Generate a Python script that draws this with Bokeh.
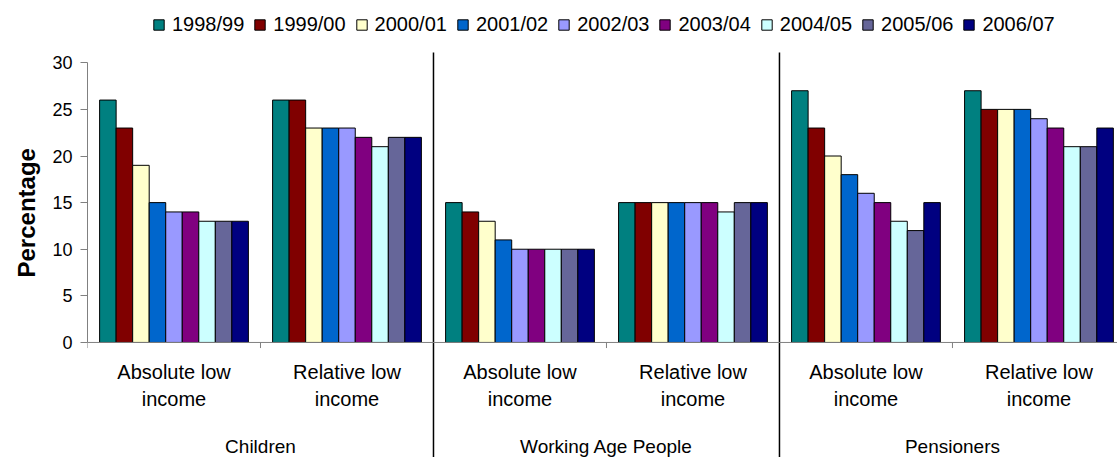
from bokeh.plotting import figure
from bokeh.models import (ColumnDataSource, Range1d, FixedTicker, Span, Legend,
                          LegendItem, Title)
from bokeh.transform import dodge
from bokeh.core.properties import value
from bokeh.embed import file_html
from bokeh.resources import INLINE

# Low income rates (%) by year
years = ["1998/99", "1999/00", "2000/01", "2001/02", "2002/03",
         "2003/04", "2004/05", "2005/06", "2006/07"]
groups = ["Children", "Working Age People", "Pensioners"]
measure_lines = [["Absolute low", "income"], ["Relative low", "income"]]

children_absolute = [26, 23, 19, 15, 14, 14, 13, 13, 13]
children_relative = [26, 26, 23, 23, 23, 22, 21, 22, 22]
working_absolute = [15, 14, 13, 11, 10, 10, 10, 10, 10]
working_relative = [15, 15, 15, 15, 15, 15, 14, 15, 15]
pensioners_absolute = [27, 23, 20, 18, 16, 15, 13, 12, 15]
pensioners_relative = [27, 25, 25, 25, 24, 23, 21, 21, 23]

y_ticks = [0, 5, 10, 15, 20, 25, 30]

colors = ["#008080", "#800000", "#FFFFCC", "#0066CC", "#9999FF",
          "#800080", "#CCFFFF", "#666699", "#000080"]

series_by_cluster = [children_absolute, children_relative,
                     working_absolute, working_relative,
                     pensioners_absolute, pensioners_relative]

n_clusters = len(series_by_cluster)
n_years = len(years)
cluster_centers = [i + 0.5 for i in range(n_clusters)]
bar_w = 0.86 / n_years

FONT = "Liberation Sans"
GREY = "#808080"

p = figure(width=1117, height=457, output_backend="svg", toolbar_location=None,
           x_range=Range1d(0, 5.954), y_range=Range1d(-12.34, 36.68),
           x_axis_location=None, min_border_left=87, min_border_right=0,
           min_border_top=0, min_border_bottom=0)
p.outline_line_color = None
p.xgrid.visible = False
p.ygrid.visible = False
p.background_fill_color = "white"
p.border_fill_color = "white"

# value axis
ax = p.yaxis[0]
ax.ticker = FixedTicker(ticks=y_ticks)
ax.bounds = (0, 30)
ax.axis_line_color = GREY
ax.major_tick_line_color = GREY
ax.minor_tick_line_color = None
ax.major_tick_out = 7
ax.major_tick_in = 0
ax.major_label_standoff = 8
ax.major_label_text_font = FONT
ax.major_label_text_font_size = "18px"
ax.major_label_text_color = "black"

# axis title, placed alongside the 0-30 span of the value axis
p.add_layout(Title(text="Percentage", align="left", offset=180, standoff=20,
                   text_font=FONT, text_font_size="24px",
                   text_font_style="bold", text_color="black"), "left")

# category axis line and ticks
p.add_layout(Span(location=0, dimension="width", line_color=GREY, line_width=1))
boundaries = list(range(n_clusters))
p.segment(x0=boundaries, y0=[0] * len(boundaries), x1=boundaries,
          y1=[-0.6] * len(boundaries), line_color=GREY, line_width=1)

# bars
items = []
for j, yr in enumerate(years):
    src = ColumnDataSource(dict(x=cluster_centers,
                                top=[s[j] for s in series_by_cluster]))
    r = p.vbar(x=dodge("x", (j - (n_years - 1) / 2) * bar_w, range=p.x_range),
               top="top", width=bar_w, source=src,
               fill_color=colors[j], line_color="black", line_width=1)
    items.append(LegendItem(label=yr, renderers=[r]))

# separators between population groups
sep_x = [2 * (g + 1) for g in range(len(groups) - 1)]
p.segment(x0=sep_x, y0=[31.1] * len(sep_x), x1=sep_x,
          y1=[-12.34] * len(sep_x), line_color="black", line_width=1.5)

# measure labels (two lines) and group labels
first_lines = [measure_lines[i % 2][0] for i in range(n_clusters)]
second_lines = [measure_lines[i % 2][1] for i in range(n_clusters)]
p.text(x=cluster_centers, y=[-3.22] * n_clusters, text=first_lines,
       text_align="center", text_baseline="middle",
       text_font=value(FONT), text_font_size="20px", text_color="black")
p.text(x=cluster_centers, y=[-6.11] * n_clusters, text=second_lines,
       text_align="center", text_baseline="middle",
       text_font=value(FONT), text_font_size="20px", text_color="black")
group_centers = [2 * g + 1 for g in range(len(groups))]
p.text(x=group_centers, y=[-11.16] * len(groups), text=groups,
       text_align="center", text_baseline="middle",
       text_font=value(FONT), text_font_size="19px", text_color="black")

legend = Legend(items=items, orientation="horizontal", location=(65, 421),
                padding=0, margin=0, border_line_color=None,
                background_fill_alpha=0, glyph_width=13, glyph_height=13,
                label_standoff=7, spacing=9, label_text_font=FONT,
                label_text_font_size="20px", label_text_color="black")
p.add_layout(legend, "center")

open("out.html", "w").write(file_html(p, INLINE))
